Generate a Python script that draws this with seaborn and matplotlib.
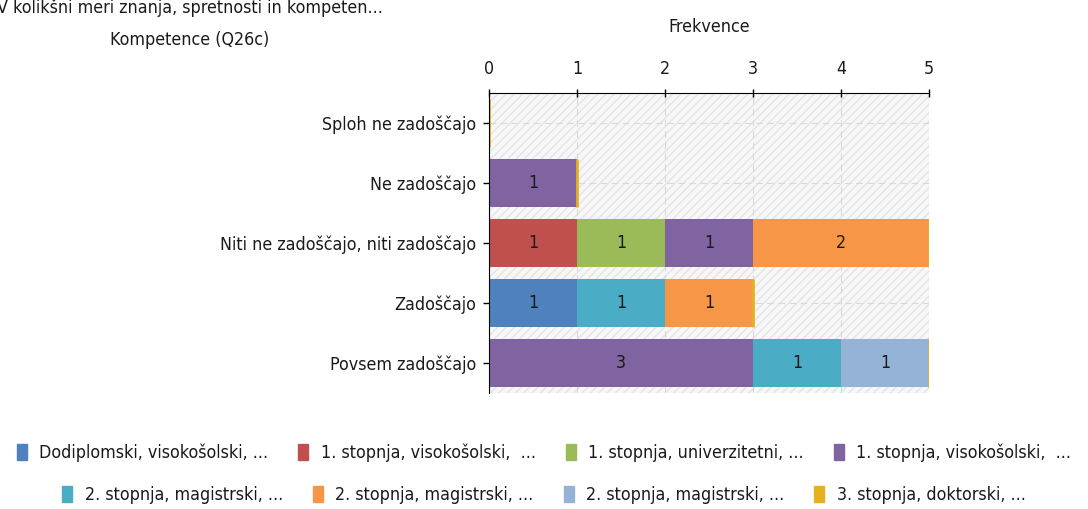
import matplotlib
matplotlib.use("Agg")
import matplotlib.pyplot as plt
import seaborn as sns
import numpy as np
import pandas as pd
from matplotlib.patches import Patch, Rectangle

# ---------------------------------------------------------------
# data
categories = ["Sploh ne zadoščajo", "Ne zadoščajo", "Niti ne zadoščajo, niti zadoščajo",
              "Zadoščajo", "Povsem zadoščajo"]
series_names = ["Dodiplomski, visokošolski, ...", "1. stopnja, visokošolski,  ...",
                "1. stopnja, univerzitetni, ...", "1. stopnja, visokošolski,  ...",
                "2. stopnja, magistrski, ...", "2. stopnja, magistrski, ...",
                "2. stopnja, magistrski, ...", "3. stopnja, doktorski, ..."]
dodiplomski = [0, 0, 0, 1, 0]
st1_visoko_a = [0, 0, 1, 0, 0]
st1_univerz = [0, 0, 1, 0, 0]
st1_visoko_b = [0, 1, 1, 0, 3]
st2_mag_a = [0, 0, 0, 1, 1]
st2_mag_b = [0, 0, 2, 1, 0]
st2_mag_c = [0, 0, 0, 0, 1]
st3_dokt = [0, 0, 0, 0, 0]
colors = ["#4F81BD", "#C0504D", "#9BBB59", "#8064A2",
          "#4BACC6", "#F79646", "#95B3D7", "#E6B023"]
xticks = [0, 1, 2, 3, 4, 5]

series = [dodiplomski, st1_visoko_a, st1_univerz, st1_visoko_b,
          st2_mag_a, st2_mag_b, st2_mag_c, st3_dokt]
vals = np.array(series, dtype=float)
cum = np.cumsum(vals, axis=0)

# ---------------------------------------------------------------
sns.set_style("white")
plt.rcParams['font.family'] = ['DejaVu Sans']
plt.rcParams['font.stretch'] = 'condensed'
FS = 12.8
TXT = "#1a1a1a"

fig = plt.figure(figsize=(10.88, 5.09), dpi=100)
ax = fig.add_axes([489/1088, 1-393/509, 440/1088, 300/509])

# hatched background
ax.add_patch(Rectangle((0, 0), 1, 1, transform=ax.transAxes, facecolor="#f7f7f7",
                       edgecolor="#e4e4e4", hatch="////", linewidth=0, zorder=0))

# stacked bars: draw cumulative totals from last to first
for i in range(len(series) - 2, -1, -1):
    df = pd.DataFrame({"cat": categories, "val": cum[i]})
    sns.barplot(data=df, x="val", y="cat", orient="h", color=colors[i],
                saturation=1, width=0.8, linewidth=0, ax=ax, zorder=3)

# zero-valued last series shows as a thin line at bar end
ypos = np.arange(len(categories))
ax.barh(ypos, vals[-1], left=cum[-2], height=0.8, color=colors[-1],
        edgecolor=colors[-1], linewidth=2, zorder=4)

# value labels
for i in range(len(series)):
    for j in range(len(categories)):
        if vals[i, j] > 0:
            ax.text(cum[i, j] - vals[i, j] / 2, j, "%d" % vals[i, j], ha="center",
                    va="center", fontsize=FS, color=TXT, zorder=5)

ax.set_xlim(0, 5)
ax.set_ylim(len(categories) - 0.5, -0.5)
ax.set_xticks(xticks)
ax.xaxis.tick_top()
ax.xaxis.set_label_position("top")
ax.set_xlabel("Frekvence", fontsize=FS, labelpad=20, color=TXT)
ax.set_ylabel("")
ax.tick_params(axis="x", top=True, direction="inout", length=6, width=1,
               labelsize=FS, pad=8, color="black", labelcolor=TXT)
ax.tick_params(axis="y", left=True, length=4, width=1, labelsize=FS, pad=5,
               color="black", labelcolor=TXT)

ax.grid(True, axis="both", linestyle=(0, (6, 4)), color="#d8d8d8", linewidth=0.8, zorder=1)
ax.set_axisbelow(True)
for s in ["right", "bottom"]:
    ax.spines[s].set_visible(False)
ax.spines["top"].set_color("black")
ax.spines["left"].set_color("black")
ax.spines["top"].set_zorder(6)
ax.spines["left"].set_zorder(6)

# title (cut off at the top-left edge, as in the source)
fig.text(190/1088, 1-8/509, "V kolikšni meri znanja, spretnosti in kompeten...",
         ha="center", va="center", fontsize=FS, color=TXT)
fig.text(190/1088, 1-40/509, "Kompetence (Q26c)", ha="center", va="center",
         fontsize=FS, color=TXT)

# legend in two centred rows
handles = [Patch(facecolor=c, edgecolor=c) for c in colors]
fig.legend(handles[:4], series_names[:4], ncol=4, loc="center",
           bbox_to_anchor=(0.5, 1-453/509), frameon=False, fontsize=FS, labelcolor=TXT,
           handlelength=0.55, handleheight=1.0, handletextpad=0.7, columnspacing=1.7)
fig.legend(handles[4:], series_names[4:], ncol=4, loc="center",
           bbox_to_anchor=(0.5, 1-495/509), frameon=False, fontsize=FS, labelcolor=TXT,
           handlelength=0.55, handleheight=1.0, handletextpad=0.7, columnspacing=1.7)

fig.savefig("out.png", dpi=100)
